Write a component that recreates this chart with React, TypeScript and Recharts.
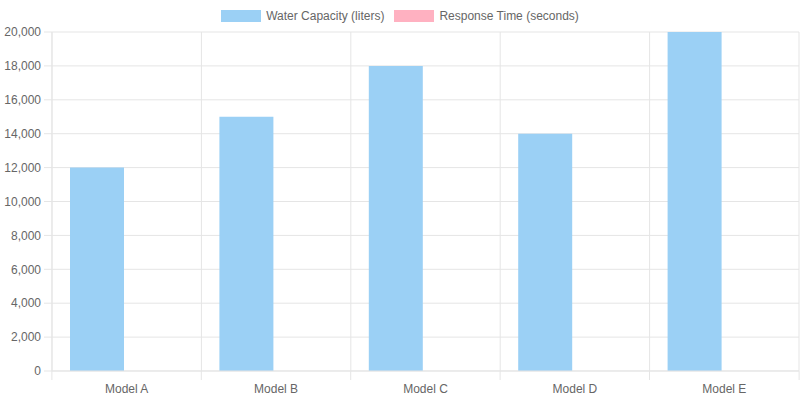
import React from "react";
import {
  BarChart,
  Bar,
  XAxis,
  YAxis,
  CartesianGrid,
  Legend,
} from "recharts";

// Fire truck models and their specs
const models = ["Model A", "Model B", "Model C", "Model D", "Model E"];
const waterCapacity = [12000, 15000, 18000, 14000, 20000]; // liters
const responseTime = [5, 4, 3, 6, 2]; // seconds
const yTicks = [0, 2000, 4000, 6000, 8000, 10000, 12000, 14000, 16000, 18000, 20000];

const series = [
  { key: "water", label: "Water Capacity (liters)", fill: "#9BD0F5" },
  { key: "response", label: "Response Time (seconds)", fill: "#FFB1C1" },
];

const data = models.map((name, i) => ({
  name,
  water: waterCapacity[i],
  response: responseTime[i],
}));

const FONT = "Arial, 'Liberation Sans', Helvetica, sans-serif";
const TEXT_COLOR = "#666666";
const GRID_COLOR = "#e5e5e5";

// Legend row: 40x12 swatch, then label
const LegendRow = () => (
  <div
    style={{
      display: "flex",
      justifyContent: "center",
      alignItems: "center",
      height: 32,
      fontFamily: FONT,
      fontSize: 12,
      color: TEXT_COLOR,
    }}
  >
    {series.map((s) => (
      <div key={s.key} style={{ display: "flex", alignItems: "center", margin: "0 5px" }}>
        <span style={{ width: 40, height: 12, background: s.fill, marginRight: 5, display: "inline-block" }} />
        <span>{s.label}</span>
      </div>
    ))}
  </div>
);

// Category label plus the short grid ticks at the band edges below the axis
const CategoryTick = (props: any) => {
  const { x, y, payload, index, visibleTicksCount } = props;
  const band = 748 / models.length;
  return (
    <g>
      <line x1={x - band / 2} x2={x - band / 2} y1={y - 9} y2={y} stroke={GRID_COLOR} />
      {index === (visibleTicksCount ?? models.length) - 1 && (
        <line x1={x + band / 2} x2={x + band / 2} y1={y - 9} y2={y} stroke={GRID_COLOR} />
      )}
      <text
        x={x}
        y={y + 13}
        textAnchor="middle"
        fill={TEXT_COLOR}
        fontSize={12}
        fontFamily={FONT}
      >
        {payload.value}
      </text>
    </g>
  );
};

export default function App() {
  return (
    <div style={{ position: "fixed", left: 0, top: 0, width: 800, height: 400, background: "#fff" }}>
      <BarChart
        width={800}
        height={400}
        data={data}
        margin={{ top: 0, right: 1, left: 0, bottom: 0 }}
        barSize={54}
        barGap={6}
      >
        <CartesianGrid
          stroke={GRID_COLOR}
          verticalCoordinatesGenerator={({ offset }: any) =>
            models.map((_, i) => offset.left + (i * offset.width) / models.length).concat(offset.left + offset.width)
          }
        />
        <XAxis
          dataKey="name"
          height={29}
          axisLine={{ stroke: GRID_COLOR }}
          tickLine={false}
          tickMargin={3}
          interval={0}
          tick={<CategoryTick />}
        />
        <YAxis
          width={52}
          domain={[0, 20000]}
          ticks={yTicks}
          interval={0}
          axisLine={{ stroke: GRID_COLOR }}
          tickLine={{ stroke: GRID_COLOR }}
          tickSize={8}
          tickMargin={3}
          tick={{ fill: TEXT_COLOR, fontSize: 12, fontFamily: FONT }}
          tickFormatter={(v: number) => v.toLocaleString("en-US")}
        />
        <Legend
          verticalAlign="top"
          height={32}
          wrapperStyle={{ top: 0, left: 0, width: 800, height: 32 }}
          content={<LegendRow />}
        />
        {series.map((s) => (
          <Bar
            key={s.key}
            dataKey={s.key}
            name={s.label}
            fill={s.fill}
            isAnimationActive={false}
          />
        ))}
      </BarChart>
    </div>
  );
}
